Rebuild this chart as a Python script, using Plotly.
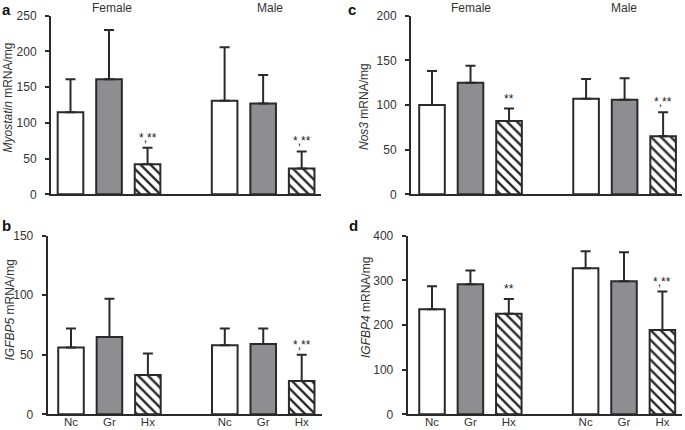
import plotly.graph_objects as go

W, H = 685, 430

treatments = ["Nc", "Gr", "Hx"]
sexes = ["Female", "Male"]

# panel a: Myostatin
myo_mean_f = [115, 161, 42]
myo_mean_m = [131, 127, 36]
myo_err_f = [46, 69, 23]
myo_err_m = [75, 40, 24]
myo_sig_f = ["", "", "*,**"]
myo_sig_m = ["", "", "*,**"]

# panel b: IGFBP5
bp5_mean_f = [56, 65, 33]
bp5_mean_m = [58, 59, 28]
bp5_err_f = [16, 32, 18]
bp5_err_m = [14, 13, 22]
bp5_sig_f = ["", "", ""]
bp5_sig_m = ["", "", "*,**"]

# panel c: Nos3
nos_mean_f = [100, 125, 82]
nos_mean_m = [107, 106, 65]
nos_err_f = [38, 19, 14]
nos_err_m = [22, 24, 27]
nos_sig_f = ["", "", "**"]
nos_sig_m = ["", "", "*,**"]

# panel d: IGFBP4
bp4_mean_f = [235, 291, 225]
bp4_mean_m = [327, 298, 189]
bp4_err_f = [52, 31, 33]
bp4_err_m = [38, 65, 86]
bp4_sig_f = ["", "", "**"]
bp4_sig_m = ["", "", "*,**"]

yticks_a = [0, 50, 100, 150, 200, 250]
yticks_b = [0, 50, 100, 150]
yticks_c = [0, 50, 100, 150, 200]
yticks_d = [0, 100, 200, 300, 400]

INK = "#2a2a2a"
TXT = "#333333"
GRAY = "#8e8e92"
FONT = "Liberation Sans, Arial, sans-serif"

def px_x(p):
    return p / W

def px_y(p):
    return 1 - p / H

panels = [
    dict(letter="a", gene="Myostatin", mf=myo_mean_f, mm=myo_mean_m, ef=myo_err_f, em=myo_err_m,
         sf=myo_sig_f, sm=myo_sig_m, ticks=yticks_a,
         dom_x=[51, 320.7], dom_y=[194.3, 15.7], xr=[-0.506, 6.494], labels=False,
         title_xy=(7.5, 98), letter_xy=(0, -1), head=True, head_x=[112, 269.5]),
    dict(letter="b", gene="IGFBP5", mf=bp5_mean_f, mm=bp5_mean_m, ef=bp5_err_f, em=bp5_err_m,
         sf=bp5_sig_f, sm=bp5_sig_m, ticks=yticks_b,
         dom_x=[47.7, 321.7], dom_y=[414.3, 235.7], xr=[-0.606, 6.52], labels=True,
         title_xy=(9.5, 310), letter_xy=(0, 215), head=False),
    dict(letter="c", gene="Nos3", mf=nos_mean_f, mm=nos_mean_m, ef=nos_err_f, em=nos_err_m,
         sf=nos_sig_f, sm=nos_sig_m, ticks=yticks_c,
         dom_x=[411, 682], dom_y=[194.3, 15.7], xr=[-0.545, 6.49], labels=False,
         title_xy=(364, 107), letter_xy=(346, -1), head=True, head_x=[471, 623.5]),
    dict(letter="d", gene="IGFBP4", mf=bp4_mean_f, mm=bp4_mean_m, ef=bp4_err_f, em=bp4_err_m,
         sf=bp4_sig_f, sm=bp4_sig_m, ticks=yticks_d,
         dom_x=[407.7, 682], dom_y=[414.3, 235.7], xr=[-0.633, 6.51], labels=True,
         title_xy=(366, 307), letter_xy=(347, 215), head=False),
]

fig = go.Figure()
annotations = []
layout = {}

fills = ["white", GRAY, "white"]
shapes_pat = ["", "", "\\"]

for i, p in enumerate(panels):
    n = i + 1
    xa = "x" if n == 1 else f"x{n}"
    ya = "y" if n == 1 else f"y{n}"
    xkey = "xaxis" if n == 1 else f"xaxis{n}"
    ykey = "yaxis" if n == 1 else f"yaxis{n}"

    groups = [(p["mf"], p["ef"], p["sf"]), (p["mm"], p["em"], p["sm"])]
    all_x = []
    all_lab = []
    for t in range(3):
        xs = [g * 4 + t for g in range(2)]
        ys = [groups[g][0][t] for g in range(2)]
        es = [groups[g][1][t] for g in range(2)]
        sg = [groups[g][2][t] for g in range(2)]
        all_x += xs
        all_lab += [treatments[t]] * 2
        marker = dict(color=fills[t], line=dict(color=INK, width=2))
        if shapes_pat[t]:
            marker["pattern"] = dict(shape=shapes_pat[t], fgcolor=INK, bgcolor="white",
                                     size=7, solidity=0.34, fillmode="replace")
        fig.add_trace(go.Bar(
            x=xs, y=ys, width=0.665, xaxis=xa, yaxis=ya, marker=marker,
            error_y=dict(type="data", symmetric=False, array=es, arrayminus=[0, 0],
                         color=INK, thickness=2, width=5),
            showlegend=False, hoverinfo="skip", name=treatments[t],
        ))
        for xv, yv, ev, s in zip(xs, ys, es, sg):
            if s:
                annotations.append(dict(x=xv, y=yv + ev, xref=xa, yref=ya, text=s,
                                        showarrow=False, yanchor="bottom", yshift=1,
                                        font=dict(family=FONT, size=12, color="#222222")))

    x0, x1 = p["dom_x"]
    yb, yt = p["dom_y"]
    layout[xkey] = dict(domain=[px_x(x0), px_x(x1)], range=p["xr"], anchor=ya,
                        showline=True, linecolor=INK, linewidth=2, ticks="",
                        showgrid=False, zeroline=False, automargin=False,
                        tickmode="array", tickvals=all_x, ticktext=all_lab,
                        showticklabels=p["labels"], ticklabelstandoff=-4,
                        tickfont=dict(family=FONT, size=11.5, color=TXT))
    layout[ykey] = dict(domain=[px_y(yb), px_y(yt)], range=[0, p["ticks"][-1]], anchor=xa,
                        showline=True, linecolor=INK, linewidth=2, ticks="outside",
                        ticklen=4, tickwidth=1.5, tickcolor=INK, showgrid=False,
                        zeroline=False, automargin=False, tickmode="array",
                        tickvals=p["ticks"], ticklabelstandoff=6,
                        tickfont=dict(family=FONT, size=12, color=TXT))

    tx, ty = p["title_xy"]
    annotations.append(dict(x=px_x(tx), y=px_y(ty), xref="paper", yref="paper",
                            text=f"<i>{p['gene']}</i> mRNA/mg", textangle=-90,
                            showarrow=False, xanchor="center", yanchor="middle",
                            font=dict(family=FONT, size=12, color=TXT)))
    lx, ly = p["letter_xy"]
    annotations.append(dict(x=px_x(lx), y=px_y(ly), xref="paper", yref="paper",
                            text=f"<b>{p['letter']}</b>", showarrow=False,
                            xanchor="left", yanchor="top",
                            font=dict(family=FONT, size=15, color="#111111")))
    if p["head"]:
        for sx, sname in zip(p["head_x"], sexes):
            annotations.append(dict(x=px_x(sx), y=px_y(7.5), xref="paper", yref="paper",
                                    text=sname, showarrow=False, xanchor="center",
                                    yanchor="middle",
                                    font=dict(family=FONT, size=12, color=TXT)))

fig.update_layout(
    width=W, height=H, margin=dict(l=0, r=0, t=0, b=0),
    paper_bgcolor="white", plot_bgcolor="white",
    barmode="overlay", annotations=annotations, **layout,
)

fig.write_html("out.html", config={"displayModeBar": False},
               post_script="document.body.style.margin='0';document.body.style.overflow='hidden';")
